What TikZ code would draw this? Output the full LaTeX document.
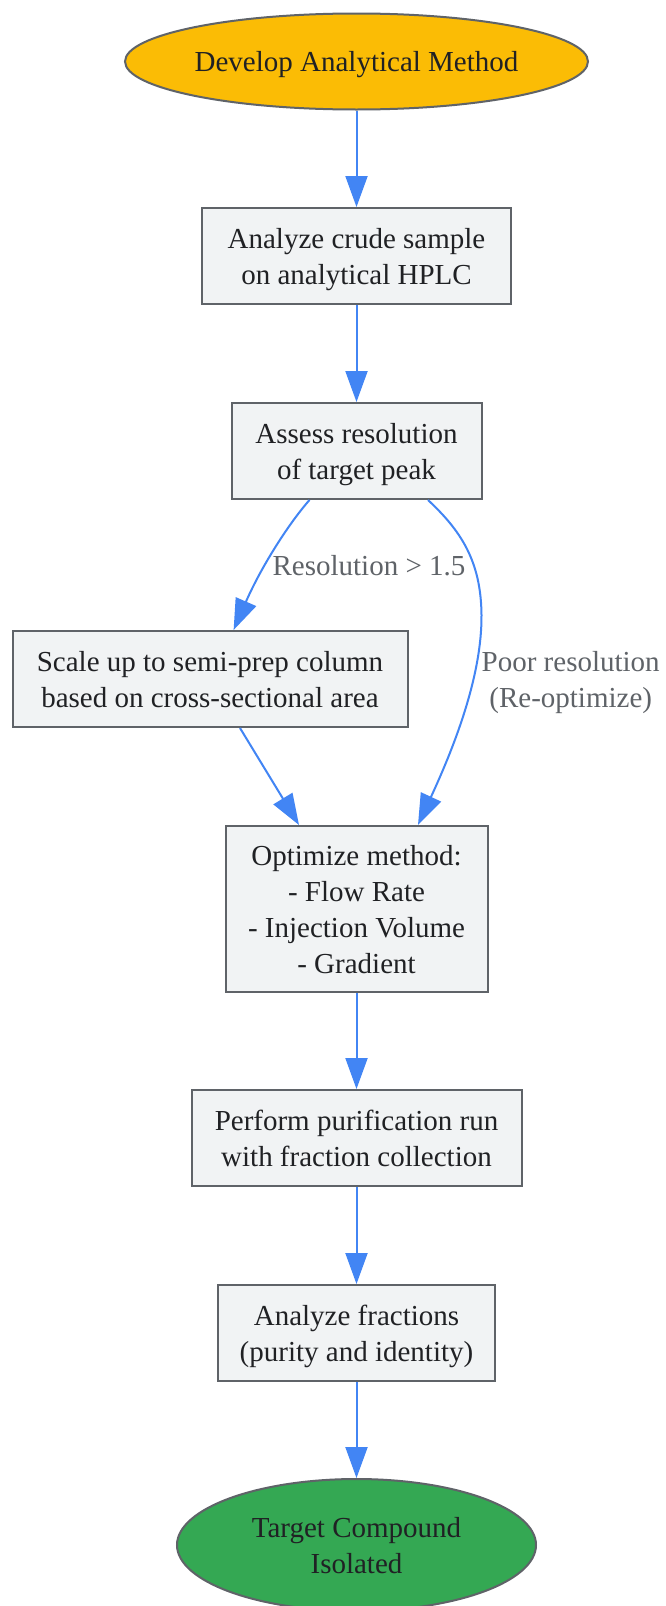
\documentclass[tikz,border=0pt]{standalone}
\usepackage{fontspec}
\setmainfont{Liberation Serif}
\usetikzlibrary{shapes.geometric,arrows.meta}
\definecolor{arrowblue}{HTML}{4285F4}
\definecolor{startyellow}{HTML}{FBBC05}
\definecolor{endgreen}{HTML}{34A853}
\definecolor{boxfill}{HTML}{F1F3F4}
\definecolor{bordergray}{HTML}{5F6368}
\definecolor{textdark}{HTML}{202124}
\definecolor{labelgray}{HTML}{5F6368}
\begin{document}
\begin{tikzpicture}[x=1pt,y=-1pt,
  basefont/.style={font=\fontsize{29}{36}\selectfont, text depth=0pt},
  stepbox/.style={basefont, rectangle, draw=bordergray, line width=2pt, fill=boxfill, text=textdark, align=center, inner sep=0pt, minimum height=96pt},
  terminal/.style={basefont, ellipse, draw=bordergray, line width=2pt, text=textdark, align=center, inner sep=0pt},
  lbl/.style={basefont, text=labelgray, align=center, inner sep=0pt},
  flow/.style={draw=arrowblue, line width=2pt, -{Triangle[length=31pt,width=22pt]}}
]
\useasboundingbox (0,0) rectangle (666,1606);
\fill[white] (0,0) rectangle (666,1606);

\node[terminal, fill=startyellow, minimum width=463pt, minimum height=96pt] (n1) at (356.5,61.5) {Develop Analytical Method};
\node[stepbox, minimum width=309pt] (n2) at (356.5,256) {Analyze crude sample\\on analytical HPLC};
\node[stepbox, minimum width=250pt] (n3) at (356.5,451) {Assess resolution\\of target peak};
\node[stepbox, minimum width=395pt] (n4) at (210,679) {Scale up to semi-prep column\\based on cross-sectional area};
\node[stepbox, minimum width=262pt, minimum height=166pt] (n5) at (356.5,909) {Optimize method:\\- Flow Rate\\- Injection Volume\\- Gradient};
\node[stepbox, minimum width=330pt] (n6) at (356.5,1138) {Perform purification run\\with fraction collection};
\node[stepbox, minimum width=277pt] (n7) at (356.5,1333) {Analyze fractions\\(purity and identity)};
\node[terminal, fill=endgreen, minimum width=359pt, minimum height=132pt] (n8) at (356.5,1545) {Target Compound\\Isolated};

\coordinate (bend) at (481.5,615);

\draw[flow] (n1) -- (n2);
\draw[flow] (n2) -- (n3);
\draw[flow] ([xshift=-47pt]n3.south) .. controls (290,522) and (262,565) .. ([xshift=23.6pt]n4.north);
\draw[flow] ([xshift=71.5pt]n3.south) .. controls (460,530) and (481,560) .. (bend) .. controls (482,675) and (455,745) .. ([xshift=61.5pt]n5.north);
\draw[flow] ([xshift=30pt]n4.south) -- ([xshift=-57.5pt]n5.north);
\draw[flow] (n5) -- (n6);
\draw[flow] (n6) -- (n7);
\draw[flow] (n7) -- (n8);

\node[lbl] (l1) at (369,565.6) {Resolution > 1.5};
\node[lbl] (l2) at (570.7,679.5) {Poor resolution\\(Re-optimize)};
\end{tikzpicture}
\end{document}
